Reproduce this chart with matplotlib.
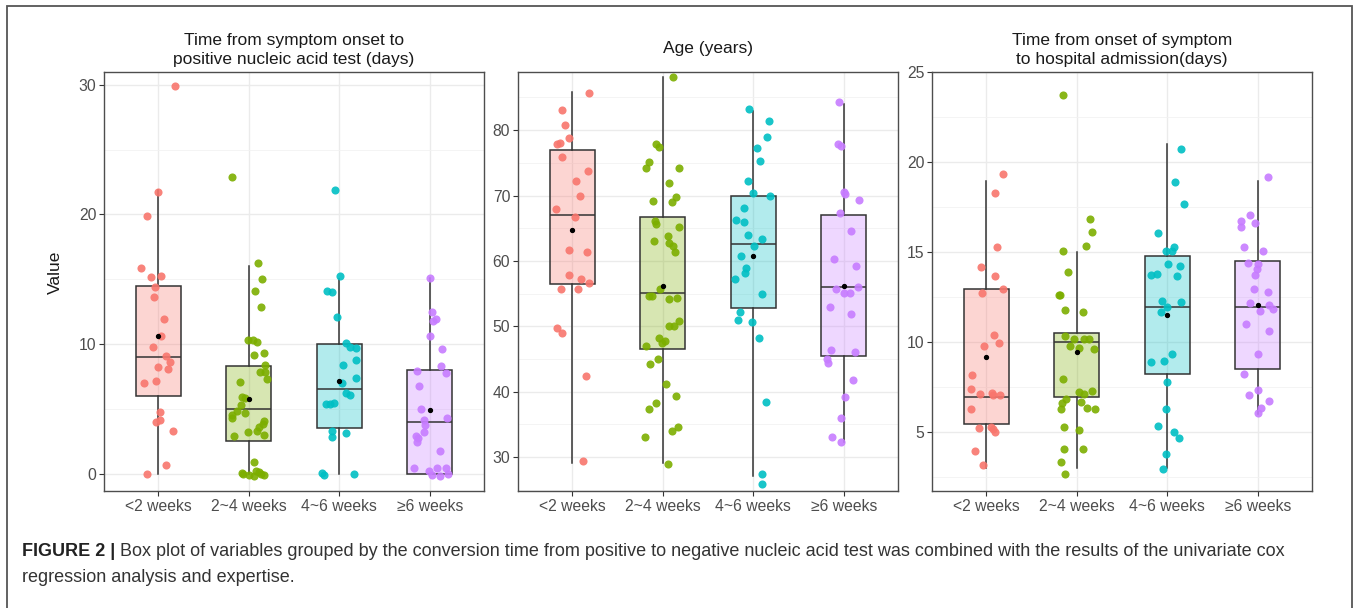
import matplotlib
matplotlib.use("Agg")
import matplotlib.pyplot as plt
from matplotlib.patches import Rectangle
from matplotlib.colors import to_rgba

plt.rcParams["font.family"] = ["Liberation Sans", "DejaVu Sans"]

GROUPS = ["<2 weeks", "2~4 weeks", "4~6 weeks", "≥6 weeks"]
COLORS = ["#F8766D", "#7CAE00", "#00BFC4", "#C77CFF"]

TITLES = [
    "Time from symptom onset to\npositive nucleic acid test (days)",
    "Age (years)",
    "Time from onset of symptom\nto hospital admission(days)",
]

# box stats: (whisker low, q1, median, q3, whisker high, mean)
ONSET_TEST_BOX = [
    (0.0, 6.02, 9.03, 14.51, 21.9, 10.63),
    (0.0, 2.52, 4.99, 8.28, 16.0, 5.79),
    (0.0, 3.5, 6.53, 10.0, 15.0, 7.18),
    (0.0, 0.0, 4.01, 8.03, 15.08, 4.94),
]
AGE_BOX = [
    (29.13, 56.53, 67.04, 77.0, 85.9, 64.74),
    (29.13, 46.53, 55.1, 66.79, 88.06, 56.22),
    (27.09, 52.76, 62.55, 70.0, 82.86, 60.77),
    (32.35, 45.51, 56.07, 67.04, 83.98, 56.22),
]
ONSET_ADMIT_BOX = [
    (3.0, 5.48, 6.98, 12.98, 18.96, 9.2),
    (3.0, 6.98, 10.02, 10.5, 14.98, 9.43),
    (3.0, 8.22, 11.98, 14.76, 21.0, 11.52),
    (6.0, 8.5, 11.98, 14.5, 18.96, 12.06),
]

# jittered points: horizontal offset from group centre, and value
ONSET_TEST_DX = [
    [0.19, 0.0, -0.13, -0.19, -0.085, 0.03, -0.04, -0.05, 0.06, 0.03, -0.055, 0.08,
     0.125, 0.0, 0.11, -0.16, -0.03, 0.02, -0.02, 0.02, 0.16, 0.09, -0.12],
    [-0.19, 0.10, 0.15, 0.07, 0.14, -0.01, 0.05, 0.09, 0.06, 0.17, 0.18, 0.12, 0.18,
     0.20, -0.10, -0.07, -0.04, -0.09, -0.13, -0.04, -0.18, -0.19, 0.17, 0.16, 0.11,
     0.09, -0.01, -0.16, 0.17, 0.06, -0.06, 0.0, 0.06, 0.08, 0.11, 0.13, 0.17, -0.08],
    [-0.05, 0.01, -0.14, -0.08, -0.03, 0.08, 0.12, 0.19, 0.19, 0.04, 0.18, 0.03, 0.08,
     0.12, -0.15, -0.10, -0.06, -0.08, -0.08, 0.07, -0.19, -0.17, 0.16],
    [0.0, 0.02, 0.04, 0.07, 0.0, 0.14, 0.13, -0.14, 0.18, -0.12, -0.10, 0.19, -0.06,
     -0.05, -0.06, -0.15, -0.13, -0.14, 0.11, -0.17, -0.01, 0.08, 0.18, 0.02, 0.11, 0.20],
]
ONSET_TEST_Y = [
    [29.9, 21.7, 19.9, 15.85, 15.2, 15.26, 14.4, 13.6, 11.9, 10.65, 9.75, 9.05, 8.64,
     8.2, 8.08, 7.0, 7.13, 4.73, 3.96, 4.17, 3.27, 0.64, 0.0],
    [22.87, 16.26, 15.02, 14.12, 12.89, 10.32, 10.32, 10.14, 9.16, 9.31, 8.34, 7.82,
     7.82, 7.31, 7.05, 5.89, 5.81, 5.3, 4.86, 4.66, 4.48, 4.27, 4.09, 3.83, 3.58, 3.32,
     3.19, 2.88, 2.98, 0.87, 0.0, -0.15, -0.2, 0.23, 0.1, 0.0, -0.08, 0.03],
    [21.9, 15.28, 14.12, 14.05, 12.07, 10.08, 9.75, 9.67, 8.8, 8.41, 7.38, 7.0, 6.23,
     6.07, 5.33, 5.38, 5.45, 3.32, 2.8, 3.14, 0.03, -0.1, 0.0],
    [15.08, 12.45, 11.8, 11.94, 10.65, 9.65, 8.28, 7.95, 7.74, 6.79, 4.99, 4.32, 4.14,
     3.76, 3.19, 2.86, 2.75, 2.42, 1.72, 0.41, 0.18, 0.41, 0.41, -0.08, -0.2, 0.0],
]

AGE_DX = [
    [0.19, -0.11, -0.08, -0.04, -0.17, -0.14, -0.11, 0.17, 0.04, 0.08, -0.18, 0.03,
     -0.04, 0.16, -0.04, 0.10, 0.19, -0.12, 0.06, -0.17, -0.11, 0.15, 0.12],
    [0.11, -0.07, -0.04, -0.15, -0.19, 0.18, 0.07, -0.11, 0.10, 0.15, -0.09, -0.08,
     0.18, 0.06, -0.10, 0.07, 0.11, 0.14, -0.03, -0.15, -0.12, 0.07, 0.16, 0.18, 0.07,
     0.12, -0.04, 0.02, -0.01, -0.18, -0.05, -0.14, 0.04, 0.15, -0.07, -0.15, 0.17,
     0.10, -0.20, 0.06],
    [-0.05, 0.17, 0.15, 0.04, 0.07, -0.06, 0.0, 0.19, -0.10, -0.19, -0.10, -0.06, 0.10,
     0.01, -0.13, -0.08, -0.09, -0.20, 0.10, -0.15, -0.17, -0.01, 0.06, 0.14, 0.10, 0.10],
    [-0.05, -0.06, -0.03, 0.0, 0.01, 0.17, -0.04, 0.08, -0.11, 0.14, -0.08, 0.16, 0.0,
     0.07, -0.15, 0.08, -0.14, 0.13, -0.19, -0.17, 0.10, 0.01, -0.03, -0.13, -0.03],
]
AGE_Y = [
    [85.71, 83.16, 80.82, 78.83, 77.86, 78.1, 75.97, 73.78, 72.24, 70.0, 67.96, 66.79,
     61.68, 61.38, 57.86, 57.24, 56.68, 55.77, 55.77, 49.8, 48.93, 42.35, 29.44],
    [88.06, 77.86, 77.4, 75.1, 74.29, 74.29, 71.89, 69.23, 69.08, 69.85, 66.17, 65.66,
     65.26, 63.78, 63.11, 62.7, 62.35, 61.33, 55.71, 54.69, 54.69, 54.13, 54.39, 50.87,
     50.05, 50.05, 48.16, 47.76, 47.4, 47.04, 45.0, 44.18, 41.12, 39.39, 38.21, 37.3,
     34.64, 34.03, 33.0, 28.93],
    [83.27, 81.33, 78.88, 77.3, 75.26, 72.19, 70.46, 69.95, 68.06, 66.22, 65.92, 64.03,
     63.32, 62.35, 60.77, 58.88, 58.11, 57.19, 54.9, 52.14, 50.92, 50.66, 48.27, 38.47,
     27.4, 25.87],
    [84.29, 77.96, 77.65, 70.61, 70.26, 69.34, 67.3, 64.64, 60.31, 59.29, 55.71, 56.07,
     55.05, 55.05, 52.91, 51.94, 46.33, 46.12, 45.0, 44.34, 41.73, 39.23, 35.92, 33.0,
     32.35],
]

ONSET_ADMIT_DX = [
    [0.18, 0.10, 0.12, -0.06, 0.10, 0.18, -0.05, 0.08, 0.14, -0.03, -0.16, -0.17,
     -0.07, 0.06, 0.07, 0.15, -0.17, -0.08, 0.05, 0.07, 0.10, -0.12, -0.04],
    [-0.15, 0.15, 0.17, 0.10, -0.15, -0.10, -0.20, -0.18, -0.13, 0.07, -0.13, -0.03,
     0.08, 0.14, -0.08, 0.03, 0.19, -0.15, 0.03, 0.17, 0.08, -0.12, -0.16, -0.17, 0.05,
     0.11, 0.20, -0.14, 0.03, -0.14, 0.07, -0.17, -0.13],
    [0.15, 0.09, 0.19, -0.10, -0.01, 0.05, 0.07, 0.01, 0.14, -0.18, -0.11, 0.11, -0.06,
     0.15, 0.0, -0.07, 0.05, -0.18, -0.04, 0.0, -0.01, -0.10, 0.07, 0.13, -0.01, -0.05],
    [0.11, -0.08, -0.19, -0.18, -0.03, -0.15, 0.06, -0.11, 0.0, -0.01, -0.03, -0.04,
     0.11, -0.08, 0.13, 0.17, 0.02, -0.13, 0.12, 0.0, -0.15, -0.10, 0.0, 0.13, 0.04, 0.0],
]
ONSET_ADMIT_Y = [
    [19.33, 18.3, 15.26, 14.17, 13.67, 12.98, 12.74, 10.39, 9.93, 9.81, 8.17, 7.39,
     7.11, 7.17, 7.06, 7.09, 6.31, 5.26, 5.31, 5.2, 5.04, 3.96, 3.2],
    [23.72, 16.83, 16.13, 15.35, 15.09, 13.87, 12.63, 12.63, 11.78, 11.65, 10.33, 10.2,
     10.2, 10.2, 9.78, 9.69, 9.65, 7.98, 7.24, 7.3, 7.11, 6.83, 6.65, 6.31, 6.7, 6.33,
     6.31, 5.31, 5.11, 4.06, 4.06, 3.35, 2.7],
    [20.7, 18.91, 17.67, 16.09, 15.04, 15.04, 15.31, 14.33, 14.24, 13.72, 13.81, 13.67,
     12.28, 12.24, 11.96, 11.7, 9.33, 8.91, 8.93, 7.78, 6.31, 5.35, 5.04, 4.67, 3.81, 2.94],
    [19.19, 17.06, 16.74, 16.37, 16.63, 15.26, 15.04, 14.39, 14.33, 14.09, 13.74, 12.98,
     12.76, 12.2, 12.07, 11.83, 11.76, 11.0, 10.63, 9.37, 8.22, 7.06, 7.35, 6.74, 6.37, 6.09],
]

Y_LIMS = [(-1.35, 31.0), (24.8, 88.9), (1.74, 25.0)]
Y_MAJOR = [[0, 10, 20, 30], [30, 40, 50, 60, 70, 80], [5, 10, 15, 20, 25]]
Y_MINOR = [[5, 15, 25], [25, 35, 45, 55, 65, 75, 85], [2.5, 7.5, 12.5, 17.5, 22.5]]

CAPTION_HEAD = "FIGURE 2 |"
CAPTION_1 = (" Box plot of variables grouped by the conversion time from positive to negative "
             "nucleic acid test was combined with the results of the univariate cox")
CAPTION_2 = "regression analysis and expertise."


def draw_panel(ax, box, dx, ys, title, ylim, major, minor, title_pad):
    stats = []
    for lo, q1, med, q3, hi, mean in box:
        stats.append(dict(whislo=lo, q1=q1, med=med, q3=q3, whishi=hi, mean=mean, fliers=[]))
    parts = ax.bxp(
        stats, positions=[1, 2, 3, 4], widths=0.5, patch_artist=True,
        showmeans=True, showcaps=False, showfliers=False,
        boxprops=dict(edgecolor="#333333", linewidth=1.1),
        whiskerprops=dict(color="#333333", linewidth=1.1),
        medianprops=dict(color="#333333", linewidth=1.1),
        meanprops=dict(marker="o", markerfacecolor="black", markeredgecolor="black",
                       markersize=2.8),
        zorder=2,
    )
    for patch, c in zip(parts["boxes"], COLORS):
        patch.set_facecolor(to_rgba(c, 0.3))
    for m in parts["means"]:
        m.set_zorder(4)

    for i, (offs, vals) in enumerate(zip(dx, ys)):
        xs = [i + 1 + o for o in offs]
        ax.scatter(xs, vals, s=34, color=COLORS[i], alpha=0.9, linewidths=0, zorder=3)

    ax.set_xlim(0.4, 4.6)
    ax.set_ylim(*ylim)
    ax.set_xticks([1, 2, 3, 4])
    ax.set_xticklabels(GROUPS)
    ax.set_yticks(major)
    ax.set_yticks(minor, minor=True)
    ax.grid(True, which="major", color="#EBEBEB", lw=1.0, zorder=0)
    ax.grid(True, which="minor", axis="y", color="#F2F2F2", lw=0.6, zorder=0)
    ax.set_axisbelow(True)
    ax.tick_params(axis="both", which="major", length=3.5, width=0.8, color="#333333",
                   labelcolor="#4D4D4D", labelsize=11.3, pad=2)
    ax.tick_params(axis="both", which="minor", length=0)
    for sp in ax.spines.values():
        sp.set_color("#4D4D4D")
        sp.set_linewidth(1.0)
    ax.set_title(title, fontsize=12.5, color="#1A1A1A", linespacing=1.3, pad=title_pad)


fig = plt.figure(figsize=(13.58, 6.08), dpi=100)
W, H = 1358, 608
panel_left = [104, 518, 932]
ax_top, ax_bot, ax_w = 72, 491, 380

boxes = [ONSET_TEST_BOX, AGE_BOX, ONSET_ADMIT_BOX]
dxs = [ONSET_TEST_DX, AGE_DX, ONSET_ADMIT_DX]
yss = [ONSET_TEST_Y, AGE_Y, ONSET_ADMIT_Y]
pads = [6, 14, 6]

for k in range(3):
    ax = fig.add_axes([panel_left[k] / W, 1 - ax_bot / H, ax_w / W, (ax_bot - ax_top) / H])
    draw_panel(ax, boxes[k], dxs[k], yss[k], TITLES[k], Y_LIMS[k], Y_MAJOR[k], Y_MINOR[k], pads[k])

fig.text(55 / W, 1 - 272 / H, "Value", rotation=90, ha="center", va="center",
         fontsize=12.5, color="#1A1A1A")

# outer frame around the figure
fig.add_artist(Rectangle((7 / W, -0.05), (1352 - 7) / W, 1.05 - 6 / H,
                         transform=fig.transFigure, fill=False, edgecolor="#555555", lw=1.3))

head = fig.text(22 / W, 1 - 552 / H, CAPTION_HEAD, fontsize=13, fontweight="bold",
                color="#222222", va="center", ha="left")
renderer = fig.canvas.get_renderer()
bb = head.get_window_extent(renderer=renderer)
fig.text(bb.x1 / W, 1 - 552 / H, CAPTION_1, fontsize=13, color="#333333",
         va="center", ha="left")
fig.text(22 / W, 1 - 578 / H, CAPTION_2, fontsize=13, color="#333333",
         va="center", ha="left")

fig.savefig("out.png", dpi=100)
